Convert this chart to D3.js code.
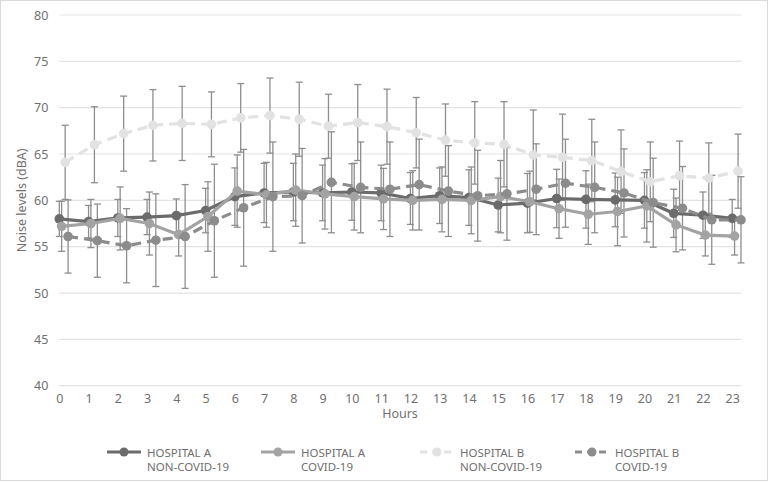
<!DOCTYPE html>
<html>
<head>
<meta charset="utf-8">
<script src="https://cdnjs.cloudflare.com/ajax/libs/d3/7.8.5/d3.min.js"></script>
<style>
	body { margin: 0; background: #fff; }
	text { font-family: "Noto Sans", "Open Sans", sans-serif; fill: #707070; }
</style>
</head>
<body>
<div class="chart"></div>
<script>
	var hours = d3.range(0, 24);
	var yTicks = [40, 45, 50, 55, 60, 65, 70, 75, 80];

	var aNonMean = [58.0, 57.7, 58.1, 58.2, 58.35, 58.9, 60.4, 60.8, 60.9, 60.8, 60.9, 60.8, 60.2, 60.5, 60.3, 59.5, 59.7, 60.2, 60.1, 60.05, 60.0, 58.6, 58.4, 58.05];
	var aNonSd = [1.9, 1.75, 2.0, 1.9, 1.8, 2.4, 3.1, 3.2, 3.1, 3.0, 3.05, 3.0, 2.8, 3.0, 3.0, 2.9, 3.2, 3.15, 3.1, 2.9, 3.0, 2.6, 2.5, 2.05];

	var aCovMean = [57.2, 57.5, 58.05, 57.5, 56.3, 58.25, 61.0, 60.6, 61.1, 60.7, 60.4, 60.15, 60.0, 60.1, 60.0, 60.4, 59.85, 59.1, 58.5, 58.8, 59.4, 57.35, 56.25, 56.15];
	var aCovSd = [2.7, 2.6, 3.4, 3.4, 2.3, 3.75, 3.9, 3.5, 3.9, 3.8, 3.6, 3.3, 3.2, 3.5, 3.6, 3.9, 3.3, 3.2, 3.25, 3.7, 3.9, 2.9, 2.25, 2.05];

	var bNonMean = [64.1, 66.0, 67.2, 68.1, 68.3, 68.2, 68.9, 69.15, 68.75, 68.0, 68.4, 67.95, 67.3, 66.5, 66.2, 66.05, 64.9, 64.65, 64.3, 63.1, 62.0, 62.65, 62.4, 63.15];
	var bNonSd = [4.0, 4.1, 4.05, 3.85, 4.0, 3.5, 3.7, 4.05, 4.0, 3.45, 4.1, 4.05, 3.8, 3.9, 4.45, 4.6, 4.85, 4.65, 4.45, 4.5, 4.3, 3.75, 3.8, 4.0];

	var bCovMean = [56.1, 55.65, 55.1, 55.7, 56.1, 57.8, 59.2, 60.4, 60.5, 61.95, 61.4, 61.2, 61.7, 61.0, 60.5, 60.7, 61.2, 61.85, 61.4, 60.8, 59.75, 59.15, 57.9, 57.9];
	var bCovSd = [3.95, 3.95, 4.0, 5.0, 5.6, 6.1, 6.3, 5.9, 5.1, 5.45, 4.9, 5.1, 4.9, 4.9, 4.9, 5.0, 4.9, 4.75, 4.9, 4.75, 4.8, 4.5, 4.8, 4.65];

	var seriesNames = [['HOSPITAL A', 'NON-COVID-19'], ['HOSPITAL A', 'COVID-19'], ['HOSPITAL B', 'NON-COVID-19'], ['HOSPITAL B', 'COVID-19']];
	// small hour shift so the error bars of the series do not sit on top of each other
	var hourShift = [0, 0.08, 0.2, 0.3];

	var series = [
		{ names: seriesNames[0], mean: aNonMean, sd: aNonSd, shift: hourShift[0], color: '#6b6b6b', dash: null },
		{ names: seriesNames[1], mean: aCovMean, sd: aCovSd, shift: hourShift[1], color: '#a3a3a3', dash: null },
		{ names: seriesNames[2], mean: bNonMean, sd: bNonSd, shift: hourShift[2], color: '#e2e2e2', dash: '10,6' },
		{ names: seriesNames[3], mean: bCovMean, sd: bCovSd, shift: hourShift[3], color: '#8c8c8c', dash: '10,6' }
	];

	var width = 769;
	var height = 483;
	var svg = d3.select('.chart').append('svg')
		.attr('width', width)
		.attr('height', height);

	// chart border
	svg.append('rect')
		.attr('x', 0.5).attr('y', 0.5)
		.attr('width', width - 2).attr('height', height - 3)
		.attr('fill', '#fff')
		.attr('stroke', '#d9d9d9');

	var x = d3.scaleLinear().domain([0, 23.3]).range([59.3, 741]);
	var y = d3.scaleLinear().domain([40, 80]).range([385.7, 15]);

	// gridlines
	var grid = svg.append('g').attr('class', 'grid');
	grid.selectAll('line')
		.data(yTicks)
		.enter().append('line')
		.attr('x1', x(0)).attr('x2', x(23.3))
		.attr('y1', function(d) { return y(d); })
		.attr('y2', function(d) { return y(d); })
		.attr('stroke', '#e3e3e3')
		.attr('stroke-width', 1.2);

	// y axis labels
	var yAxis = svg.append('g')
		.attr('transform', 'translate(' + (x(0) - 11) + ',0)')
		.call(d3.axisLeft(y).tickValues(yTicks).tickSize(0).tickPadding(0));
	yAxis.select('.domain').remove();
	yAxis.selectAll('text').attr('font-size', 12.5).attr('fill', '#707070')
		.style('font-family', '"Noto Sans", sans-serif');

	// x axis labels
	var xAxis = svg.append('g')
		.attr('transform', 'translate(0,' + (y(40) + 8) + ')')
		.call(d3.axisBottom(x).tickValues(hours).tickFormat(d3.format('d')).tickSize(0).tickPadding(0));
	xAxis.select('.domain').remove();
	xAxis.selectAll('text').attr('font-size', 12.5).attr('fill', '#707070')
		.style('font-family', '"Noto Sans", sans-serif');

	// axis titles
	svg.append('text')
		.attr('x', 400).attr('y', 418)
		.attr('text-anchor', 'middle')
		.attr('font-size', 12.5)
		.text('Hours');
	svg.append('text')
		.attr('transform', 'translate(26,' + y(60) + ') rotate(-90)')
		.attr('text-anchor', 'middle')
		.attr('font-size', 12.5)
		.text('Noise levels (dBA)');

	// error bars
	var bars = svg.append('g').attr('class', 'errorbars');
	var cap = 3.5;
	series.forEach(function(s) {
		var g = bars.append('g');
		hours.forEach(function(h, i) {
			var cx = x(h + s.shift);
			var top = y(s.mean[i] + s.sd[i]);
			var bot = y(s.mean[i] - s.sd[i]);
			g.append('line').attr('x1', cx).attr('x2', cx).attr('y1', top).attr('y2', bot);
			g.append('line').attr('x1', cx - cap).attr('x2', cx + cap).attr('y1', top).attr('y2', top);
			g.append('line').attr('x1', cx - cap).attr('x2', cx + cap).attr('y1', bot).attr('y2', bot);
		});
		g.selectAll('line').attr('stroke', '#8e8e8e').attr('stroke-width', 1.3);
	});

	// lines and markers
	var line = d3.line()
		.x(function(d) { return d.x; })
		.y(function(d) { return d.y; });

	series.forEach(function(s) {
		var pts = hours.map(function(h, i) { return { x: x(h + s.shift), y: y(s.mean[i]) }; });
		var g = svg.append('g').attr('class', 'series');
		g.append('path')
			.attr('d', line(pts))
			.attr('fill', 'none')
			.attr('stroke', s.color)
			.attr('stroke-width', 3.2)
			.attr('stroke-dasharray', s.dash);
		g.selectAll('circle')
			.data(pts)
			.enter().append('circle')
			.attr('cx', function(d) { return d.x; })
			.attr('cy', function(d) { return d.y; })
			.attr('r', 4.8)
			.attr('fill', s.color);
	});

	// legend
	var legendX = [107, 261, 420, 575];
	var legend = svg.append('g').attr('class', 'legend');
	series.forEach(function(s, i) {
		var g = legend.append('g').attr('transform', 'translate(' + legendX[i] + ',452)');
		g.append('line')
			.attr('x1', 0).attr('x2', 34).attr('y1', 0).attr('y2', 0)
			.attr('stroke', s.color)
			.attr('stroke-width', 3.2)
			.attr('stroke-dasharray', s.dash ? '7,5' : null)
			.attr('stroke-dashoffset', s.dash ? 0 : null);
		g.append('circle').attr('cx', 17).attr('cy', 0).attr('r', 4.5).attr('fill', s.color);
		var t = g.append('text')
			.attr('x', 40).attr('y', 4.5)
			.attr('font-size', 11.5);
		t.append('tspan').attr('x', 40).text(s.names[0]);
		t.append('tspan').attr('x', 40).attr('dy', 14).text(s.names[1]);
	});
</script>
</body>
</html>
